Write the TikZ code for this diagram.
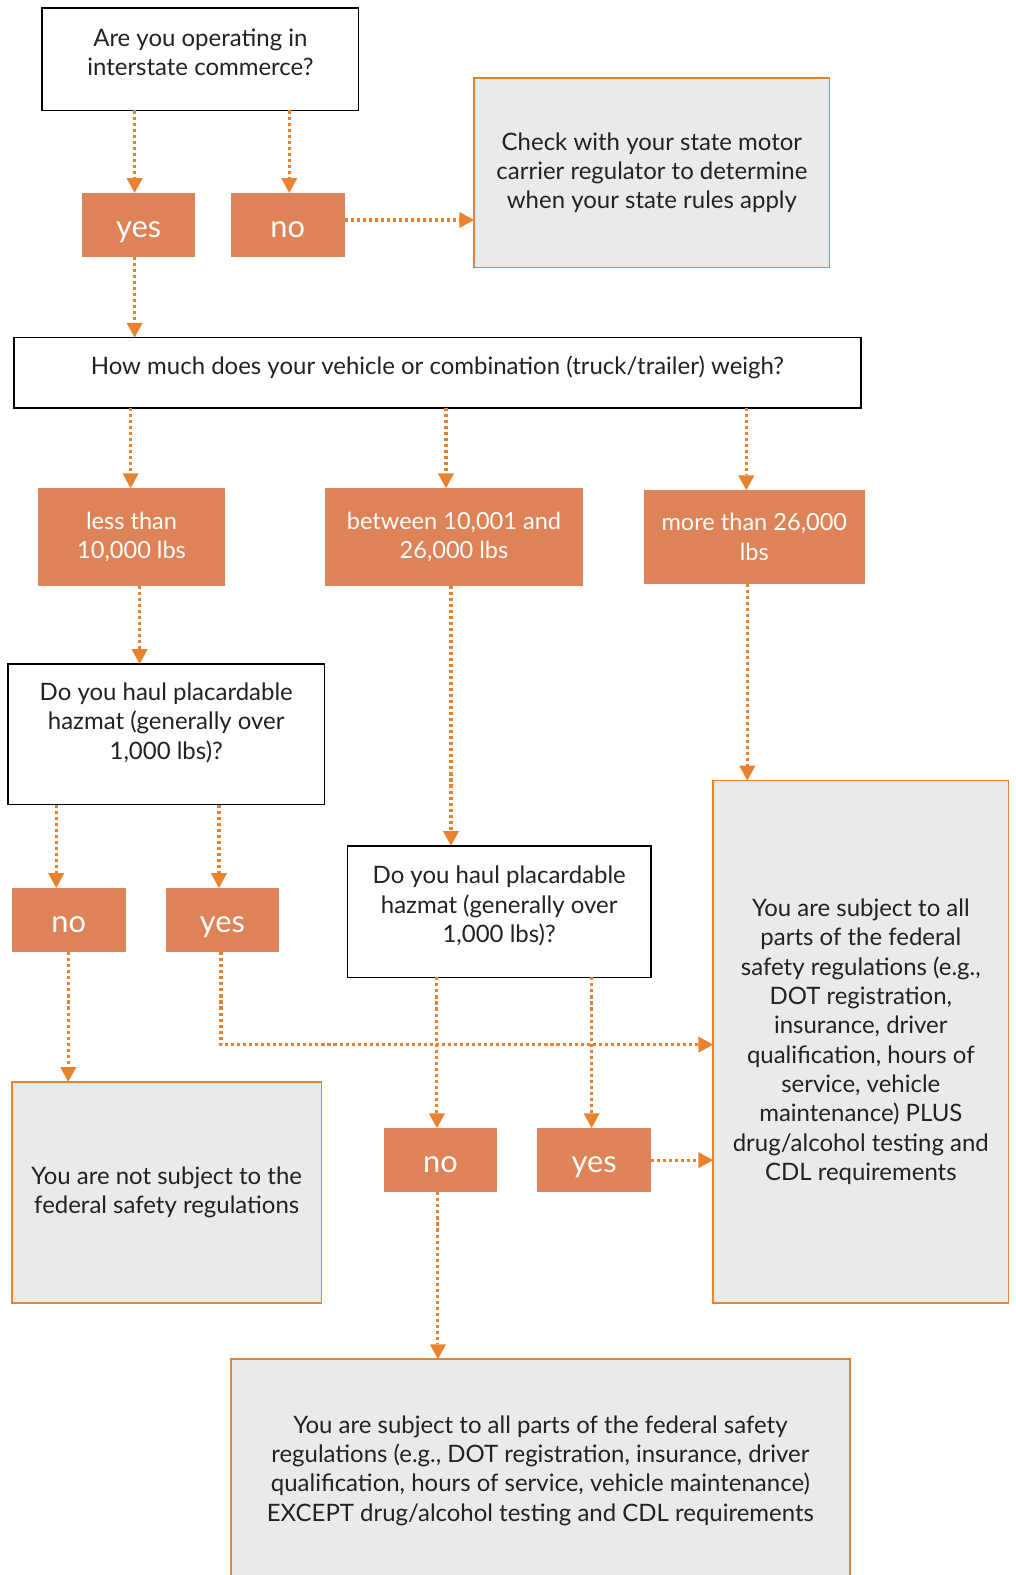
\documentclass[tikz,border=0pt]{standalone}
\usepackage{fontspec}
\setmainfont{Lato}
\usetikzlibrary{arrows.meta}
\definecolor{orfill}{HTML}{DE8257}
\definecolor{orline}{HTML}{E8822F}
\definecolor{gbox}{HTML}{EAEAEA}
\definecolor{txt}{HTML}{222222}
\tikzset{
  sz/.style 2 args={minimum width=#1*0.75pt, minimum height=#2*0.75pt},
  base/.style={inner sep=0pt, outer sep=0pt, align=center, font=\fontsize{17.9}{21.9}\selectfont, text=txt},
  qbox/.style={base, draw=black, line width=1.1pt, fill=white},
  obox/.style={base, fill=orfill, text=white, font=\fontsize{17.6}{21.9}\selectfont},
  ans/.style={obox, font=\fontsize{23}{26}\selectfont, text height=18.5pt, text depth=0pt},
  gbx/.style={base, draw=orline, line width=1.1pt, fill=gbox},
  arr/.style={draw=orline, line width=2.3pt, dash pattern=on 2.3pt off 2.2pt,
    -{Triangle[width=12pt,length=11pt,line width=0pt]}, shorten >=0pt}
}
\begin{document}
\begin{tikzpicture}[x=0.75pt,y=-0.75pt]
\useasboundingbox (0,0) rectangle (1011,1568);
\node[qbox, sz={315}{102}, text depth=10.5pt] (q1) at (199.5,59) {Are you operating in\\interstate commerce?};
\node[ans, sz={112}{64}] (yes1) at (138,224) {yes};
\node[ans, sz={113}{64}] (no1) at (286.5,224) {no};
\node[gbx, sz={354}{189}] (state) at (649,172) {Check with your state motor\\carrier regulator to determine\\when your state rules apply};
\node[qbox, sz={843}{70}, text depth=11pt] (q2) at (435.5,371) {How much does your vehicle or combination (truck/trailer) weigh?};
\node[obox, sz={186}{97}] (less) at (131,534.5) {less than\\10,000 lbs};
\node[obox, sz={256}{97}] (betw) at (452,534.5) {between 10,001 and\\26,000 lbs};
\node[obox, sz={220}{93}] (more) at (751,534.5) {more than 26,000\\lbs};
\node[qbox, sz={315}{140}, text depth=20pt] (q3) at (165.5,731) {Do you haul placardable\\hazmat (generally over\\1,000 lbs)?};
\node[ans, sz={113}{64}] (no2) at (68.5,916) {no};
\node[ans, sz={113}{64}] (yes2) at (221.5,916) {yes};
\node[qbox, sz={302}{131}, text depth=11pt] (q4) at (497,907.5) {Do you haul placardable\\hazmat (generally over\\1,000 lbs)?};
\node[ans, sz={113}{64}] (no3) at (438.5,1155) {no};
\node[ans, sz={113}{64}] (yes3) at (591.5,1155) {yes};
\node[gbx, sz={308}{220}] (notsub) at (166,1187) {You are not subject to the\\federal safety regulations};
\node[gbx, sz={294}{520}] (allbox) at (857,1037) {You are subject to all\\parts of the federal\\safety regulations (e.g.,\\DOT registration,\\insurance, driver\\qualification, hours of\\service, vehicle\\maintenance) PLUS\\drug/alcohol testing and\\CDL requirements};
\node[gbx, sz={616}{222}] (except) at (538,1464) {You are subject to all parts of the federal safety\\regulations (e.g., DOT registration, insurance, driver\\qualification, hours of service, vehicle maintenance)\\EXCEPT drug/alcohol testing and CDL requirements};
% connectors
\draw[arr] (q1.south -| 134,0) -- (yes1.north -| 134,0);
\draw[arr] (q1.south -| 288,0) -- (no1.north -| 288,0);
\draw[arr] (no1.east |- 0,219) -- (state.west |- 0,219);
\draw[arr] (yes1.south -| 134,0) -- (q2.north -| 134,0);
\draw[arr] (q2.south -| 130,0) -- (less.north -| 130,0);
\draw[arr] (q2.south -| 444,0) -- (betw.north -| 444,0);
\draw[arr] (q2.south -| 743,0) -- (more.north -| 743,0);
\draw[arr] (less.south -| 139,0) -- (q3.north -| 139,0);
\draw[arr] (betw.south -| 449,0) -- (q4.north -| 449,0);
\draw[arr] (more.south -| 744,0) -- (allbox.north -| 744,0);
\draw[arr] (q3.south -| 56,0) -- (no2.north -| 56,0);
\draw[arr] (q3.south -| 218,0) -- (yes2.north -| 218,0);
\draw[arr] (no2.south -| 68,0) -- (notsub.north -| 68,0);
\draw[arr] (yes2.south -| 220,0) |- (allbox.west |- 0,1040);
\draw[arr] (q4.south -| 435,0) -- (no3.north -| 435,0);
\draw[arr] (q4.south -| 589,0) -- (yes3.north -| 589,0);
\draw[arr] (yes3.east |- 0,1155) -- (allbox.west |- 0,1155);
\draw[arr] (no3.south -| 436,0) -- (except.north -| 436,0);
\end{tikzpicture}
\end{document}
